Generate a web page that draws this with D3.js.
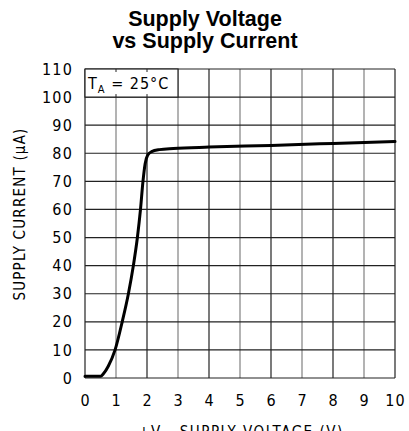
<!DOCTYPE html>
<html>
<head>
<meta charset="utf-8">
<script src="https://cdn.jsdelivr.net/npm/d3@7"></script>
<style>
  html, body { margin: 0; padding: 0; background: #fff; }
  svg { display: block; }
</style>
</head>
<body>
<svg id="chart" width="409" height="431"></svg>
<script>
const titleLines = ["Supply Voltage", "vs Supply Current"];
const xTicks = [0, 1, 2, 3, 4, 5, 6, 7, 8, 9, 10];
const yTicks = [0, 10, 20, 30, 40, 50, 60, 70, 80, 90, 100, 110];
const voltage = [0, 0.5, 0.6, 0.75, 0.97, 1.2, 1.4, 1.56, 1.69, 1.79, 1.87, 1.94, 2.02, 2.15, 2.4, 2.85, 4, 6, 8, 10];
const current = [0.6, 0.6, 1.6, 4.2, 10, 20, 30, 40, 50, 60, 70, 76.3, 79.3, 80.6, 81.3, 81.7, 82.2, 82.8, 83.5, 84.2];
const xLabel = "+V - SUPPLY VOLTAGE (V)";
const yLabel = "SUPPLY CURRENT (\u03BCA)";

const svg = d3.select("#chart");
const mLeft = 85, mRight = 395, mTop = 69, mBottom = 378;
const x = d3.scaleLinear().domain([0, 10]).range([mLeft, mRight]);
const y = d3.scaleLinear().domain([0, 110]).range([mBottom, mTop]);
const tickFont = "'DejaVu Sans Condensed', 'Liberation Sans', sans-serif";

// Title
svg.append("text")
  .attr("x", 205).attr("text-anchor", "middle")
  .attr("font-family", "'Liberation Sans', Arial, sans-serif")
  .attr("font-weight", "bold").attr("font-size", 21.5)
  .selectAll("tspan").data(titleLines).join("tspan")
  .attr("x", 205).attr("y", (d, i) => 26 + i * 22).text(d => d);

// Grid
const g = svg.append("g");
g.selectAll("line.vx").data(xTicks).join("line")
  .attr("x1", d => x(d)).attr("x2", d => x(d))
  .attr("y1", y(110)).attr("y2", y(0))
  .attr("stroke", d => d % 2 ? "#808080" : "#222").attr("stroke-width", 1.2);
g.selectAll("line.hy").data(yTicks).join("line")
  .attr("y1", d => y(d)).attr("y2", d => y(d))
  .attr("x1", x(0)).attr("x2", x(10))
  .attr("stroke", "#222").attr("stroke-width", 1.2);

// Temperature box
g.append("rect")
  .attr("x", x(0)).attr("y", y(110))
  .attr("width", x(3) - x(0)).attr("height", y(100) - y(110))
  .attr("fill", "#fff").attr("stroke", "#222").attr("stroke-width", 1.2);
g.selectAll("line.stub").data([1, 2]).join("line")
  .attr("x1", d => x(d)).attr("x2", d => x(d))
  .attr("y1", y(110)).attr("y2", y(110) + 3)
  .attr("stroke", "#222");
g.selectAll("line.stub2").data([1, 2]).join("line")
  .attr("x1", d => x(d)).attr("x2", d => x(d))
  .attr("y1", y(100)).attr("y2", y(100) - 3)
  .attr("stroke", "#222");
const ta = svg.append("text")
  .attr("x", x(0) + 3).attr("y", y(105) + 6)
  .attr("font-family", tickFont).attr("font-size", 16).attr("letter-spacing", 1);
ta.append("tspan").text("T");
ta.append("tspan").attr("font-size", 11).attr("dy", 4).text("A");
ta.append("tspan").attr("dy", -4).text(" = 25\u00B0C");

// Axes labels via d3 axes
const xAxis = d3.axisBottom(x).tickValues(xTicks).tickSize(0).tickPadding(17).tickFormat(d3.format("d"));
svg.append("g").attr("transform", `translate(0,${mBottom})`).call(xAxis)
  .call(s => s.select(".domain").remove())
  .selectAll("text").attr("font-family", tickFont).attr("font-size", 16).attr("letter-spacing", 1).attr("fill", "#000");
const yAxis = d3.axisLeft(y).tickValues(yTicks).tickSize(0).tickPadding(12).tickFormat(d3.format("d"));
svg.append("g").attr("transform", `translate(${mLeft},0)`).call(yAxis)
  .call(s => s.select(".domain").remove())
  .selectAll("text").attr("font-family", tickFont).attr("font-size", 16).attr("letter-spacing", 1.2).attr("fill", "#000");

// Curve
const pts = voltage.map((v, i) => [v, current[i]]);
svg.append("path").datum(pts)
  .attr("fill", "none").attr("stroke", "#000").attr("stroke-width", 3)
  .attr("stroke-linejoin", "round").attr("stroke-linecap", "round")
  .attr("d", d3.line().x(d => x(d[0])).y(d => y(d[1])).curve(d3.curveMonotoneX));

// Axis titles
svg.append("text")
  .attr("x", 241).attr("y", 437).attr("text-anchor", "middle")
  .attr("font-family", tickFont).attr("font-size", 15).attr("letter-spacing", 1.5)
  .text(xLabel);
svg.append("text")
  .attr("transform", "translate(25,214) rotate(-90)").attr("text-anchor", "middle")
  .attr("font-family", tickFont).attr("font-size", 15).attr("letter-spacing", 1.2)
  .text(yLabel);
</script>
</body>
</html>
